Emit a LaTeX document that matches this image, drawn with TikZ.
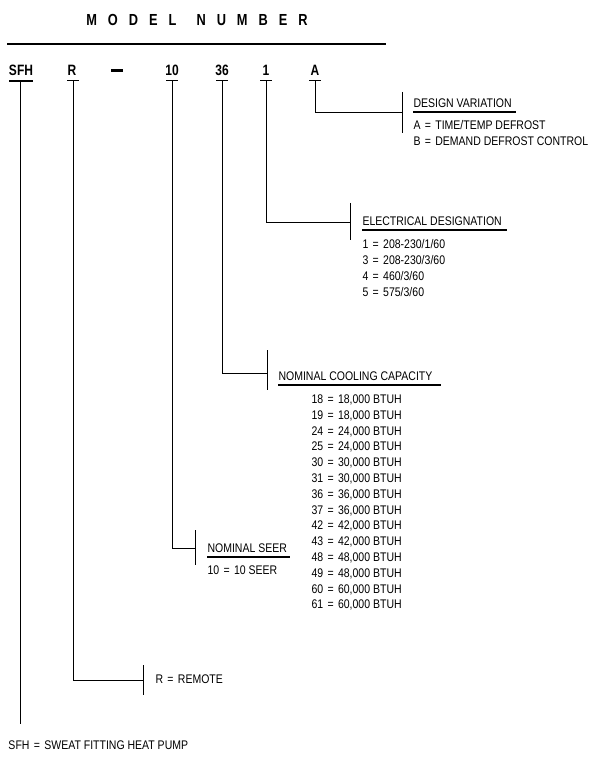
\documentclass[tikz,border=0pt]{standalone}
\usepackage{fontspec}
\setmainfont{Liberation Sans}[FakeStretch=0.84]
\newfontfamily\bigf{Liberation Sans}[FakeStretch=0.8,UprightFont=* Bold]
\newcommand{\eq}{\hspace{0.35em}=\hspace{0.35em}}
\begin{document}
\begin{tikzpicture}[x=1pt,y=-1pt,line width=1pt,
  lbl/.style={anchor=west,inner sep=0,font=\fontsize{12.5}{14}\selectfont},
  code/.style={inner sep=0,font=\bigf\fontsize{15}{16}\selectfont},
  ul/.style={line width=1.2pt}]
\useasboundingbox (0,0) rectangle (608,767);
\node[code,font=\bigf\fontsize{16}{17}\selectfont] (title) at (197,20) {M\hspace{11pt}O\hspace{11pt}D\hspace{11pt}E\hspace{11pt}L\hspace{20pt}N\hspace{11pt}U\hspace{11pt}M\hspace{11pt}B\hspace{11pt}E\hspace{11pt}R};
\draw[line width=2pt] (7,44) -- (386,44);
\node[code] (sfh) at (21,70) {SFH};
\node[code] (r) at (72,70) {R};
\node[code, minimum width=12pt, minimum height=3pt, fill=black] (dash) at (117,71) {};
\node[code] (ten) at (172,70) {10};
\node[code] (tsix) at (222,70) {36};
\node[code] (one) at (266,70) {1};
\node[code] (a) at (315,70) {A};
% ticks
\draw[line width=1.5pt] (9,81) -- (33,81);
\foreach \x in {73,172,222,266,315} \draw (\x-6,81) -- (\x+6,81);
% SFH
\draw (20,81) -- (20,724);
\node[lbl] (sfht) at (8,745) {SFH\eq SWEAT FITTING HEAT PUMP};
% R
\draw (73,81) -- (73,680) -- (143,680);
\draw (143,665) -- (143,695);
\node[lbl] (rt) at (155,679) {R\eq REMOTE};
% 10
\draw (172,81) -- (172,548) -- (195,548);
\draw (195,530) -- (195,565);
\node[lbl] (seer) at (207,548) {NOMINAL SEER};
\draw[ul] (207,557) -- (290,557);
\node[lbl] at (207,570) {10\eq 10 SEER};
% 36
\draw (222,81) -- (222,373) -- (267,373);
\draw (267,350) -- (267,390);
\node[lbl] (cap) at (278,376) {NOMINAL COOLING CAPACITY};
\draw[ul] (278,385) -- (441,385);
\foreach \a/\b [count=\i from 0] in {18/18,19/18,24/24,25/24,30/30,31/30,36/36,37/36,42/42,43/42,48/48,49/48,60/60,61/60}
  \node[lbl] at (311,400+15.8*\i) {\a\eq\b,000 BTUH};
% 1
\draw (266,81) -- (266,222) -- (350,222);
\draw (350,203) -- (350,240);
\node[lbl] (elec) at (362,221) {ELECTRICAL DESIGNATION};
\draw[ul] (362,230) -- (507,230);
\node[lbl] at (362,244) {1\eq 208-230/1/60};
\node[lbl] at (362,260) {3\eq 208-230/3/60};
\node[lbl] at (362,276) {4\eq 460/3/60};
\node[lbl] at (362,292) {5\eq 575/3/60};
% A
\draw (315,81) -- (315,113) -- (402,113);
\draw (402,92) -- (402,133);
\node[lbl] (des) at (413,103) {DESIGN VARIATION};
\draw[ul] (413,112) -- (516,112);
\node[lbl] at (413,125) {A\eq TIME/TEMP DEFROST};
\node[lbl] at (413,141) {B\eq DEMAND DEFROST CONTROL};
\end{tikzpicture}
\end{document}
